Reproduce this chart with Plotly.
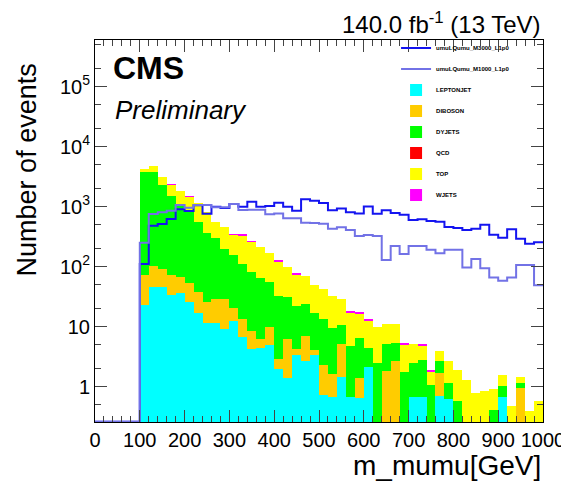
import plotly.graph_objects as go

# bin edges in m_mumu [GeV], 20 GeV bins from 100 to 1000
edges = list(range(100, 1001, 20))
centers = [e + 10 for e in edges[:-1]]

leptonjet = [23, 45, 45, 34, 37, 26, 17, 11.4, 11.7, 9.0, 12.6, 6.8, 4.2, 4.35, 4.95,
             2.0, 1.38, 3.37, 2.68, 3.37, 0.72, 0.66, 1.43, 0.66, 0.64, 2.1, 0, 0, 0, 0,
             0.66, 0.66, 0, 0.71, 0.62, 0, 0, 0, 0, 0, 0.68, 0, 0, 0, 0]
diboson = [50, 58, 45, 39, 31, 27, 21, 14.7, 16.9, 19.6, 7.6, 6.5, 4.4, 1.8, 4.8,
           0.86, 4.77, 0.82, 4.4, 0.71, 1.58, 0.95, 3.65, 0, 0.75, 0, 0, 1.85, 2.64, 0,
           0, 0, 0, 0.96, 0, 0, 0, 0, 0, 0, 0, 0, 0.94, 0, 0]
dyjets = [3757, 3727, 2210, 1432, 998, 827, 524, 343, 268, 165, 136, 98, 74, 58, 45,
          29.5, 25.5, 18.2, 16.8, 13.0, 11.0, 8.0, 5.4, 4.1, 5.17, 2.37, 2.51, 3.23, 2.63, 1.76,
          1.79, 2.12, 1.07, 1.01, 0.52, 0.58, 0, 0, 0, 0.41, 0.35, 0, 0.2, 0, 0]
qcd = [0] * 45
top = [360, 930, 860, 815, 782, 580, 604, 457, 265, 270, 184, 219, 177, 146, 112,
       90, 66, 52.5, 46, 32.4, 28.6, 22.8, 18.1, 12.4, 10.1, 8.4, 7.36, 6.0, 5.8, 3.3,
       2.69, 2.1, 0.75, 1.3, 1.54, 1.32, 1.29, 0.77, 0.85, 0.52, 0.53, 0.48, 0.33, 0.39, 0.58]
wjets = [0, 0, 0, 70, 0, 45, 0, 0, 0, 0, 10, 10, 8, 0, 0,
         4, 0, 2.5, 0, 0, 0, 0, 0, 0.6, 0.6, 0.5, 0, 0, 0, 0.2,
         0, 0.2, 0.08, 0, 0, 0, 0, 0, 0, 0, 0, 0, 0, 0, 0]

m3000 = [111, 480, 514, 625, 903, 850, 1060, 760, 1000, 950, 1107, 1000, 1212, 1000, 1026,
         1166, 1000, 860, 1326, 1259, 1150, 870, 938, 810, 774, 1010, 760, 870, 785, 735,
         600, 620, 580, 562, 460, 440, 408, 430, 500, 340, 305, 420, 292, 242, 255]
m1000 = [251, 755, 810, 858, 1066, 960, 1066, 1066, 975, 975, 1107, 880, 890, 890, 750,
         770, 645, 645, 541, 535, 520, 430, 455, 408, 324, 337, 324, 129, 222, 163,
         221, 221, 192, 167, 192, 192, 97, 134, 94, 66, 58, 66, 107, 107, 49]

ymin, ymax = -0.59, 5.78
floor = 10 ** (ymin + 0.005)  # ROOT draws empty bins on the axis floor

fig = go.Figure()

bkg = [("LEPTONJET", leptonjet, "#00ffff"),
       ("DIBOSON", diboson, "#ffcc00"),
       ("DYJETS", dyjets, "#00ff00"),
       ("QCD", qcd, "#ff0000"),
       ("TOP", top, "#ffff00"),
       ("WJETS", wjets, "#ff00ff")]
for i, (name, vals, col) in enumerate(bkg):
    fig.add_trace(go.Bar(x=centers, y=vals, width=20, name=name,
                         marker=dict(color=col, line_width=0),
                         legendgroup=name, legendrank=10 + i))

sig = [("umuLQumu_M3000_L1p0", m3000, "#1414f0"),
       ("umuLQumu_M1000_L1p0", m1000, "#7272e6")]
for i, (name, vals, col) in enumerate(sig):
    fig.add_trace(go.Scatter(x=[0] + edges, y=[floor] + vals + [vals[-1]],
                             mode="lines", line=dict(color=col, width=2, shape="hv"),
                             name=name, legendgroup=name, legendrank=1 + i))

# the page body keeps its default 8px margin, so the figure is 8px smaller
fnt = "Liberation Sans, Arial, sans-serif"
fig.update_layout(
    width=561, height=478,
    margin=dict(l=87, r=26, t=32, b=64, autoexpand=False),
    paper_bgcolor="white", plot_bgcolor="white",
    barmode="stack", bargap=0,
    font=dict(family=fnt, color="black"),
    legend=dict(x=0.672, y=1.017, xanchor="left", yanchor="top",
                bgcolor="rgba(0,0,0,0)", font=dict(size=6, weight="bold"),
                traceorder="grouped", tracegroupgap=2, itemwidth=30),
    annotations=[
        dict(text="140.0 fb<sup>-1</sup> (13 TeV)", xref="paper", yref="paper",
             x=1.0, y=1.045, xanchor="right", yanchor="middle", showarrow=False,
             font=dict(size=24)),
        dict(text="<b>CMS</b>", xref="paper", yref="paper", x=0.035, y=0.927,
             xanchor="left", yanchor="middle", showarrow=False, font=dict(size=32)),
        dict(text="<i>Preliminary</i>", xref="paper", yref="paper", x=0.04, y=0.817,
             xanchor="left", yanchor="middle", showarrow=False, font=dict(size=26)),
        dict(text="Number of events", xref="paper", yref="paper", x=-0.152, y=0.945,
             xanchor="center", yanchor="top", textangle=-90, showarrow=False,
             font=dict(size=27)),
        dict(text="m_mumu[GeV]", xref="paper", yref="paper", x=1.0, y=-0.113,
             xanchor="right", yanchor="middle", showarrow=False, font=dict(size=28)),
    ],
)

fig.update_xaxes(range=[0, 1000], dtick=100, tick0=0, ticks="inside", ticklen=12,
                 minor=dict(dtick=20, ticks="inside", ticklen=6),
                 showline=True, linecolor="black", mirror="allticks", automargin=False,
                 showgrid=False, zeroline=False, tickfont=dict(size=20))
fig.update_yaxes(type="log", range=[ymin, ymax], ticks="inside", ticklen=12,
                 tickvals=[1, 10, 100, 1e3, 1e4, 1e5],
                 ticktext=["1", "10", "10<sup>2</sup>", "10<sup>3</sup>", "10<sup>4</sup>", "10<sup>5</sup>"],
                 minor=dict(ticks="inside", ticklen=6, showgrid=False),
                 showline=True, linecolor="black", mirror="allticks", automargin=False,
                 showgrid=False, zeroline=False, tickfont=dict(size=20))

fig.write_html("out.html")
